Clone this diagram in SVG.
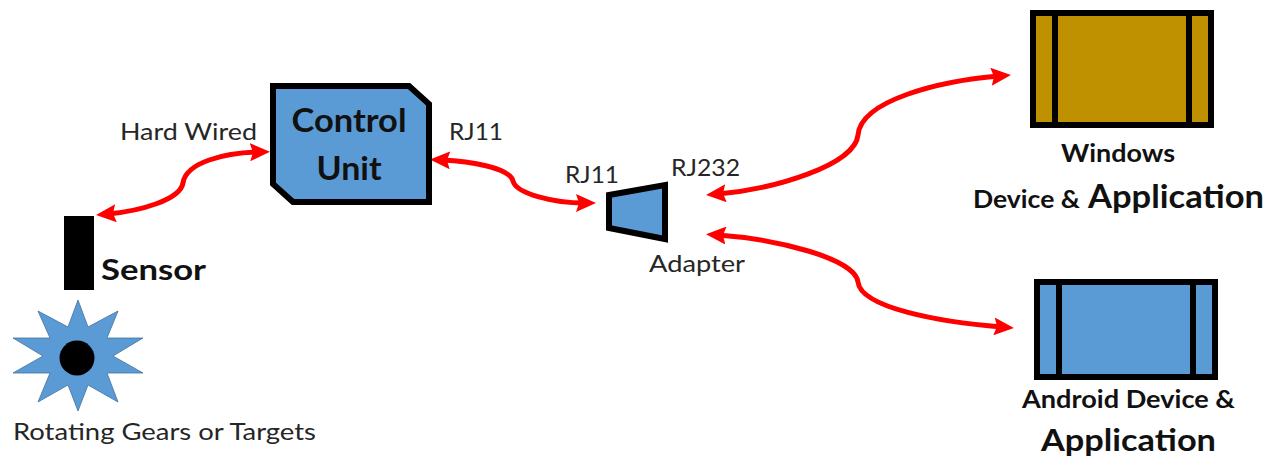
<svg xmlns="http://www.w3.org/2000/svg" width="1277" height="458" viewBox="0 0 1277 458">
<style>
text{font-family:"Lato","Open Sans","Liberation Sans",sans-serif;fill:#262626}
.r{font-size:24px}
.b{font-weight:700;fill:#111}
.o{stroke:#000;stroke-width:6;stroke-linejoin:miter}
.blue{fill:#5B9BD5}
.gold{fill:#BF9000}
.c{fill:none;stroke:#f00;stroke-width:5;marker-start:url(#h);marker-end:url(#h)}
</style>
<defs>
<marker id="h" viewBox="0 0 20 18" refX="8" refY="9" markerUnits="userSpaceOnUse" markerWidth="20" markerHeight="18" orient="auto-start-reverse">
<path d="M0,0 L20,9 L0,18 L3,9 Z" fill="#f00"/>
</marker>
</defs>
<rect width="1277" height="458" fill="#fff"/>
<g id="connectors">
<path class="c" d="M108,214 C140,211 180,200 183,183 C186,162 225,153 258,152"/>
<path class="c" d="M442,160 C470,161 510,168 513,181 C516,194 555,203 584,203"/>
<path class="c" d="M718,194 C775,189 855,165 858,135 C861,100 940,81 999,76"/>
<path class="c" d="M718,235 C775,239 855,258 858,282 C861,308 940,322 1002,327"/>
</g>
<g id="control-unit">
<path class="o blue" d="M273,86 H409 L429,104 V202 H293 L273,184 Z"/>
<text class="b" x="349" y="132" font-size="32" text-anchor="middle" textLength="115" lengthAdjust="spacingAndGlyphs">Control</text>
<text class="b" x="349" y="180" font-size="32" text-anchor="middle" textLength="65" lengthAdjust="spacingAndGlyphs">Unit</text>
</g>
<g id="hard-wired-label"><text class="r" x="120" y="140" textLength="137" lengthAdjust="spacingAndGlyphs">Hard Wired</text></g>
<g id="sensor">
<rect x="64" y="216" width="30" height="74" fill="#000"/>
<text class="b" x="101" y="280" font-size="29" textLength="105" lengthAdjust="spacingAndGlyphs">Sensor</text>
</g>
<g id="gear">
<polygon class="blue" stroke="#41719C" stroke-width="0.8" points="78,300 88,327 118,311 107,338 143,338 113,356 143,373 107,373 118,402 88,385 78,411 68,385 38,402 50,373 13,373 43,356 13,338 50,338 38,311 68,327"/>
<circle cx="77" cy="358" r="17.5" fill="#000"/>
<text class="r" x="13" y="440" textLength="303" lengthAdjust="spacingAndGlyphs">Rotating Gears or Targets</text>
</g>
<g id="rj11-left-label"><text class="r" x="449" y="140" textLength="54" lengthAdjust="spacingAndGlyphs">RJ11</text></g>
<g id="adapter">
<polygon class="o blue" points="609,195 665,185 665,239 609,228"/>
<text class="r" x="565" y="183" textLength="54" lengthAdjust="spacingAndGlyphs">RJ11</text>
<text class="r" x="671" y="176" textLength="69" lengthAdjust="spacingAndGlyphs">RJ232</text>
<text class="r" x="649" y="272" textLength="96" lengthAdjust="spacingAndGlyphs">Adapter</text>
</g>
<g id="windows-device">
<rect class="o gold" x="1033" y="13" width="178" height="112"/>
<path stroke="#000" stroke-width="6" d="M1055,13 V125 M1189,13 V125"/>
<text class="b" x="1118" y="162" font-size="24" text-anchor="middle" textLength="114" lengthAdjust="spacingAndGlyphs">Windows</text>
<text class="b" x="973" y="208" font-size="24" textLength="107" lengthAdjust="spacingAndGlyphs">Device &amp;</text>
<text class="b" x="1088" y="208" font-size="32" textLength="176" lengthAdjust="spacingAndGlyphs">Application</text>
</g>
<g id="android-device">
<rect class="o blue" x="1037" y="282" width="178" height="95"/>
<path stroke="#000" stroke-width="6" d="M1059,282 V377 M1193,282 V377"/>
<text class="b" x="1022" y="408" font-size="24" textLength="213" lengthAdjust="spacingAndGlyphs">Android Device &amp;</text>
<text class="b" x="1041" y="451" font-size="30" textLength="175" lengthAdjust="spacingAndGlyphs">Application</text>
</g>
</svg>
